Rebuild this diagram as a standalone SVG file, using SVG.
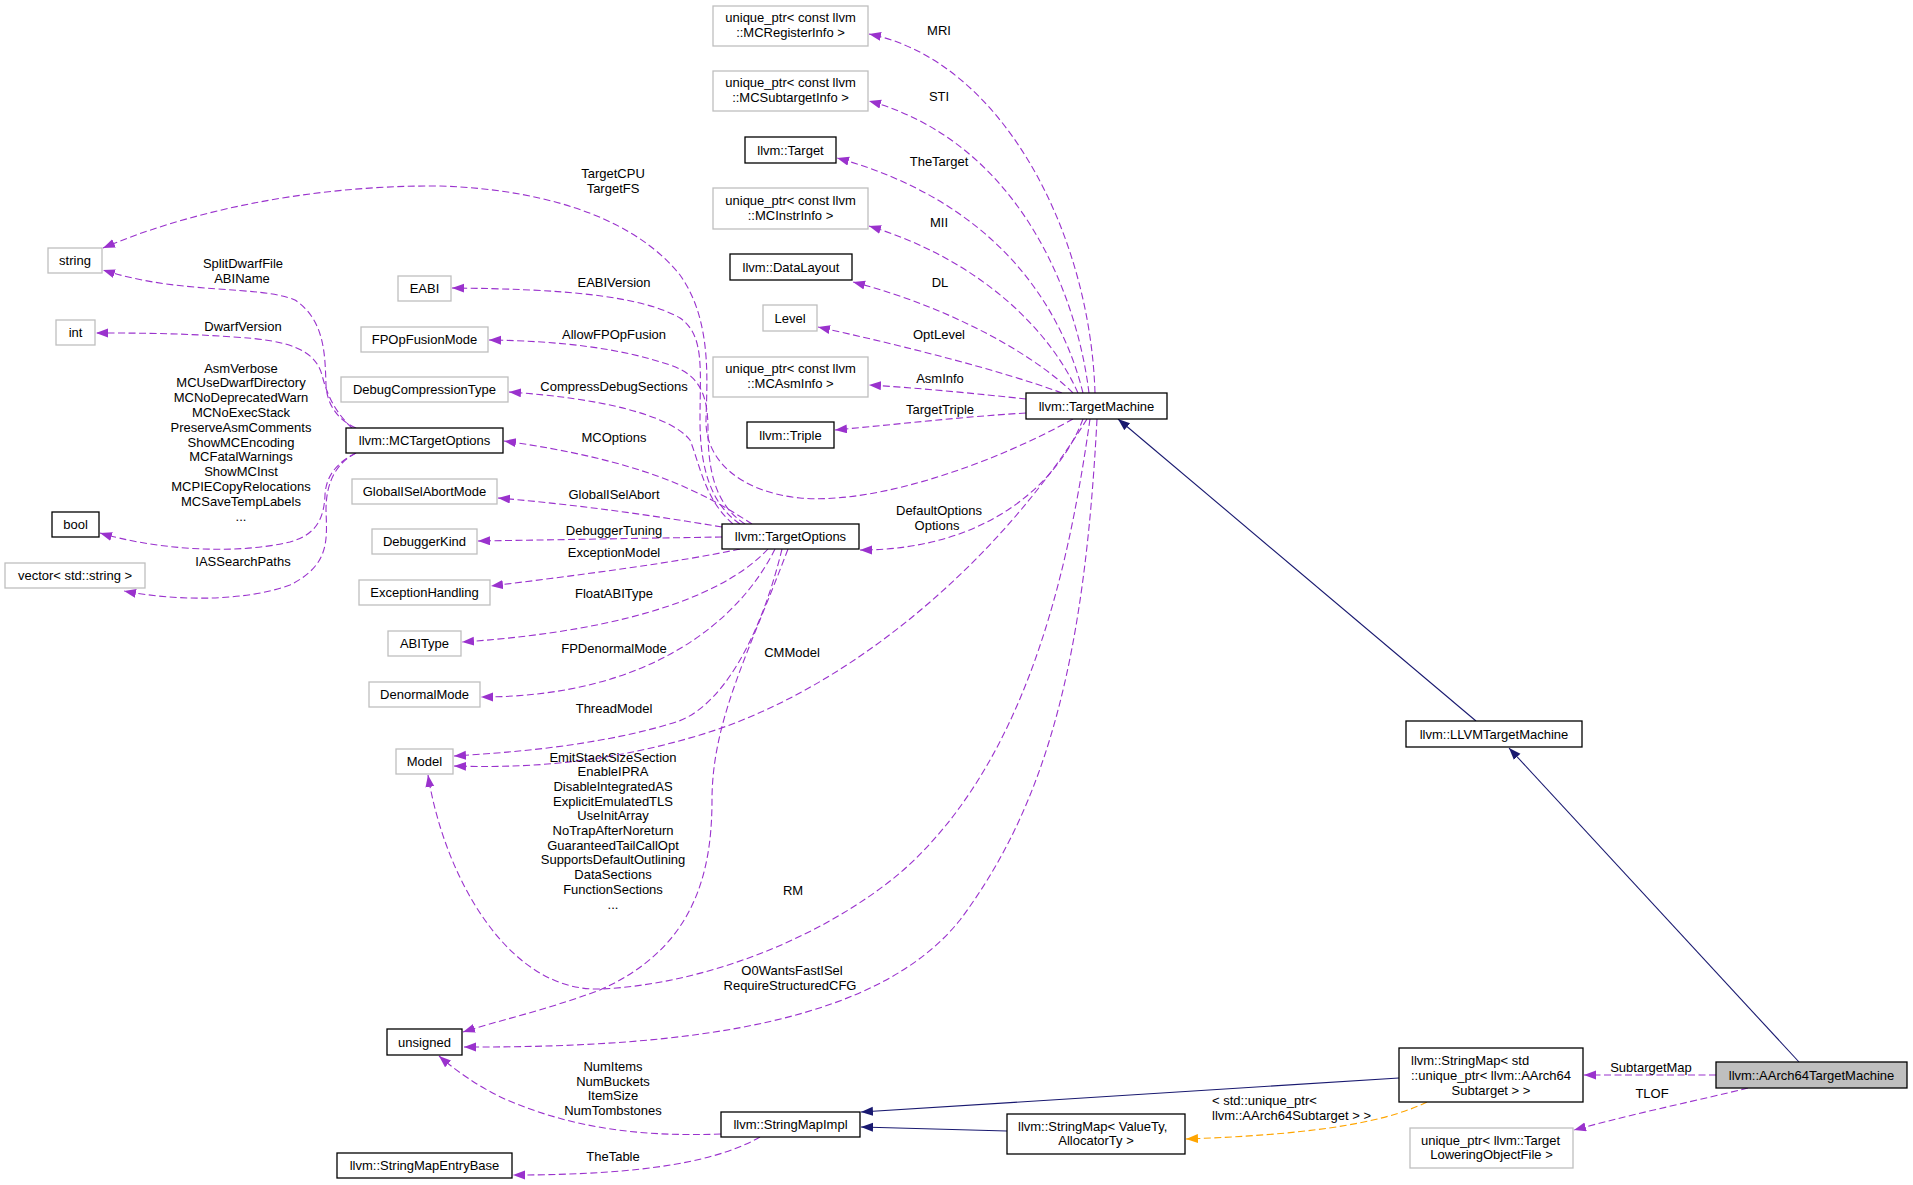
<svg xmlns="http://www.w3.org/2000/svg" width="1913" height="1185" viewBox="0 0 1913 1185">
<style>
text{font-family:"Liberation Sans",Arial,Helvetica,sans-serif;font-size:13px;fill:#000}
.c{text-anchor:middle}
.s{text-anchor:start}
.nb rect{fill:#fff;stroke:#000;stroke-width:1.3}
.ng rect{fill:#fff;stroke:#bfbfbf;stroke-width:1.3}
.nh rect{fill:#bfbfbf;stroke:#000;stroke-width:1.3}
.p{fill:none;stroke:#9a32cd;stroke-width:1.1;stroke-dasharray:7,3.5;marker-end:url(#ap)}
.b{fill:none;stroke:#191970;stroke-width:1.1;marker-end:url(#ab)}
.o{fill:none;stroke:#ffa500;stroke-width:1.1;stroke-dasharray:7,3.5;marker-end:url(#ao)}
</style>
<defs>
<marker id="ap" markerUnits="userSpaceOnUse" markerWidth="13" markerHeight="10" refX="12" refY="4.5" orient="auto"><path d="M0,0 L12,4.5 L0,9 z" fill="#9a32cd"/></marker>
<marker id="ab" markerUnits="userSpaceOnUse" markerWidth="13" markerHeight="10" refX="12" refY="4.5" orient="auto"><path d="M0,0 L12,4.5 L0,9 z" fill="#191970"/></marker>
<marker id="ao" markerUnits="userSpaceOnUse" markerWidth="13" markerHeight="10" refX="12" refY="4.5" orient="auto"><path d="M0,0 L12,4.5 L0,9 z" fill="#ffa500"/></marker>
</defs>
<rect width="1913" height="1185" fill="#fff"/>
<g id="connectors">
<path class="p" d="M1095,393 C1090,230 1000,60 869,34"/>
<path class="p" d="M1089,393 C1075,280 1010,140 869,101"/>
<path class="p" d="M1083,393 C1060,300 990,200 837,158"/>
<path class="p" d="M1078,393 C1050,330 980,260 869,226"/>
<path class="p" d="M1073,393 C1040,360 960,310 853,282"/>
<path class="p" d="M1062,393 C1000,370 900,345 818,327"/>
<path class="p" d="M1026,399 C980,394 920,388 869,385"/>
<path class="p" d="M1026,413 C960,417 900,424 835,430"/>
<path class="p" d="M1073,419 C1000,460 880,505 800,498 C740,492 705,460 706,420 C707,380 712,320 680,275 C640,225 560,190 440,186 C300,185 180,215 103,248"/>
<path class="p" d="M1083,419 C1060,480 990,550 860,550"/>
<path class="p" d="M1087,419 C1000,560 850,690 700,735 C600,765 520,768 454,766"/>
<path class="p" d="M1090,419 C1070,560 1030,760 900,873 C820,940 700,985 600,989 C510,992 445,880 428,775"/>
<path class="p" d="M1097,419 C1085,650 1050,800 960,920 C880,1020 700,1048 464,1047"/>
<path class="p" d="M752,524 C700,490 640,460 504,441"/>
<path class="p" d="M722,527 C650,515 580,505 498,498"/>
<path class="p" d="M722,537 L478,541"/>
<path class="p" d="M740,549 C680,562 580,575 491,586"/>
<path class="p" d="M768,549 C730,590 640,630 462,642"/>
<path class="p" d="M775,549 C740,620 650,697 481,697"/>
<path class="p" d="M782,549 C760,640 720,710 673,723 C600,745 520,752 454,756"/>
<path class="p" d="M788,549 C750,650 712,720 712,800 C712,880 690,950 600,990 C540,1012 500,1020 463,1032"/>
<path class="p" d="M740,524 C712,505 700,470 700,420 C700,370 705,335 680,318 C640,295 560,289 452,288"/>
<path class="p" d="M745,524 C715,505 708,470 708,430 C708,395 700,375 670,365 C620,348 560,341 489,340"/>
<path class="p" d="M733,524 C705,500 700,465 690,440 C670,415 600,398 509,392"/>
<path class="p" d="M356,428 C338,420 327,405 326,385 C325,355 325,320 295,300 C260,285 180,295 103,270"/>
<path class="p" d="M352,428 C335,412 327,395 322,375 C315,350 290,340 233,337 C180,333 130,333 96,333"/>
<path class="p" d="M356,453 C338,462 326,475 325,495 C324,520 315,535 290,542 C230,556 150,548 100,533"/>
<path class="p" d="M356,453 C338,462 326,480 326,510 C327,540 330,565 290,585 C240,603 170,600 124,591"/>
<path class="p" d="M721,1134 C640,1137 573,1128 507,1100 C480,1088 455,1070 439,1056"/>
<path class="p" d="M760,1137 C720,1160 650,1175 513,1175"/>
<path class="b" d="M1476,721 L1118,419"/>
<path class="b" d="M1799,1062 L1509,748"/>
<path class="b" d="M1399,1078 L861,1112"/>
<path class="b" d="M1007,1131 L861,1127"/>
<path class="o" d="M1427,1102 C1380,1125 1300,1135 1186,1139"/>
<path class="p" d="M1716,1075 L1584,1075"/>
<path class="p" d="M1748,1088 C1700,1100 1640,1112 1574,1130"/>
</g>
<g id="edge-labels">
<text class="c" x="939" y="35">MRI</text>
<text class="c" x="939" y="101">STI</text>
<text class="c" x="939" y="166">TheTarget</text>
<text class="c" x="939" y="227">MII</text>
<text class="c" x="940" y="287">DL</text>
<text class="c" x="939" y="339">OptLevel</text>
<text class="c" x="940" y="383">AsmInfo</text>
<text class="c" x="940" y="414">TargetTriple</text>
<text class="c" x="613" y="178">TargetCPU<tspan x="613" dy="15">TargetFS</tspan></text>
<text class="c" x="939" y="515">DefaultOptions<tspan x="937" dy="15">Options</tspan></text>
<text class="c" x="792" y="657">CMModel</text>
<text class="c" x="793" y="895">RM</text>
<text class="c" x="792" y="975">O0WantsFastISel<tspan x="790" dy="15">RequireStructuredCFG</tspan></text>
<text class="c" x="614" y="287">EABIVersion</text>
<text class="c" x="614" y="339">AllowFPOpFusion</text>
<text class="c" x="614" y="391">CompressDebugSections</text>
<text class="c" x="614" y="442">MCOptions</text>
<text class="c" x="614" y="499">GlobalISelAbort</text>
<text class="c" x="614" y="535">DebuggerTuning</text>
<text class="c" x="614" y="557">ExceptionModel</text>
<text class="c" x="614" y="598">FloatABIType</text>
<text class="c" x="614" y="653">FPDenormalMode</text>
<text class="c" x="614" y="713">ThreadModel</text>
<text class="c" x="613" y="761.5">EmitStackSizeSection<tspan x="613" dy="14.7">EnableIPRA</tspan><tspan x="613" dy="14.7">DisableIntegratedAS</tspan><tspan x="613" dy="14.7">ExplicitEmulatedTLS</tspan><tspan x="613" dy="14.7">UseInitArray</tspan><tspan x="613" dy="14.7">NoTrapAfterNoreturn</tspan><tspan x="613" dy="14.7">GuaranteedTailCallOpt</tspan><tspan x="613" dy="14.7">SupportsDefaultOutlining</tspan><tspan x="613" dy="14.7">DataSections</tspan><tspan x="613" dy="14.7">FunctionSections</tspan><tspan x="613" dy="14.7">...</tspan></text>
<text class="c" x="243" y="268">SplitDwarfFile<tspan x="242" dy="14.5">ABIName</tspan></text>
<text class="c" x="243" y="331">DwarfVersion</text>
<text class="c" x="241" y="372.5">AsmVerbose<tspan x="241" dy="14.8">MCUseDwarfDirectory</tspan><tspan x="241" dy="14.8">MCNoDeprecatedWarn</tspan><tspan x="241" dy="14.8">MCNoExecStack</tspan><tspan x="241" dy="14.8">PreserveAsmComments</tspan><tspan x="241" dy="14.8">ShowMCEncoding</tspan><tspan x="241" dy="14.8">MCFatalWarnings</tspan><tspan x="241" dy="14.8">ShowMCInst</tspan><tspan x="241" dy="14.8">MCPIECopyRelocations</tspan><tspan x="241" dy="14.8">MCSaveTempLabels</tspan><tspan x="241" dy="14.8">...</tspan></text>
<text class="c" x="243" y="566">IASSearchPaths</text>
<text class="c" x="613" y="1071">NumItems<tspan x="613" dy="14.7">NumBuckets</tspan><tspan x="613" dy="14.7">ItemSize</tspan><tspan x="613" dy="14.7">NumTombstones</tspan></text>
<text class="c" x="613" y="1161">TheTable</text>
<text class="s" x="1212" y="1105">&lt; std::unique_ptr&lt;<tspan x="1212" dy="15">llvm::AArch64Subtarget &gt; &gt;</tspan></text>
<text class="c" x="1651" y="1072">SubtargetMap</text>
<text class="c" x="1652" y="1098">TLOF</text>
</g>
<g id="n_string" class="ng"><rect x="48" y="248" width="54" height="25"/><text class="c" x="75" y="265">string</text></g>
<g id="n_int" class="ng"><rect x="56" y="320" width="39" height="25"/><text class="c" x="75.5" y="337">int</text></g>
<g id="n_bool" class="nb"><rect x="52" y="512" width="47" height="25"/><text class="c" x="75.5" y="529">bool</text></g>
<g id="n_vector" class="ng"><rect x="5" y="563" width="140" height="25"/><text class="c" x="75" y="580">vector&lt; std::string &gt;</text></g>
<g id="n_mctargetoptions" class="nb"><rect x="346" y="428" width="157" height="25"/><text class="c" x="424.5" y="445">llvm::MCTargetOptions</text></g>
<g id="n_eabi" class="ng"><rect x="398" y="276" width="53" height="25"/><text class="c" x="424.5" y="293">EABI</text></g>
<g id="n_fpopfusionmode" class="ng"><rect x="361" y="327" width="127" height="25"/><text class="c" x="424.5" y="344">FPOpFusionMode</text></g>
<g id="n_debugcompressiontype" class="ng"><rect x="341" y="377" width="167" height="25"/><text class="c" x="424.5" y="394">DebugCompressionType</text></g>
<g id="n_globalisel" class="ng"><rect x="352" y="479" width="145" height="25"/><text class="c" x="424.5" y="496">GlobalISelAbortMode</text></g>
<g id="n_debuggerkind" class="ng"><rect x="372" y="529" width="105" height="25"/><text class="c" x="424.5" y="546">DebuggerKind</text></g>
<g id="n_exceptionhandling" class="ng"><rect x="359" y="580" width="131" height="25"/><text class="c" x="424.5" y="597">ExceptionHandling</text></g>
<g id="n_abitype" class="ng"><rect x="388" y="631" width="73" height="25"/><text class="c" x="424.5" y="648">ABIType</text></g>
<g id="n_denormalmode" class="ng"><rect x="369" y="682" width="111" height="25"/><text class="c" x="424.5" y="699">DenormalMode</text></g>
<g id="n_model" class="ng"><rect x="396" y="749" width="57" height="25"/><text class="c" x="424.5" y="766">Model</text></g>
<g id="n_unsigned" class="nb"><rect x="387" y="1029" width="75" height="26"/><text class="c" x="424.5" y="1046.5">unsigned</text></g>
<g id="n_stringmapentrybase" class="nb"><rect x="337" y="1153" width="175" height="25"/><text class="c" x="424.5" y="1170">llvm::StringMapEntryBase</text></g>
<g id="n_mcregisterinfo" class="ng"><rect x="713" y="6" width="155" height="40"/><text class="c" x="790.5" y="22">unique_ptr&lt; const llvm<tspan x="790.5" dy="15">::MCRegisterInfo &gt;</tspan></text></g>
<g id="n_mcsubtargetinfo" class="ng"><rect x="713" y="71" width="155" height="40"/><text class="c" x="790.5" y="87">unique_ptr&lt; const llvm<tspan x="790.5" dy="15">::MCSubtargetInfo &gt;</tspan></text></g>
<g id="n_target" class="nb"><rect x="745" y="137" width="91" height="26"/><text class="c" x="790.5" y="154.5">llvm::Target</text></g>
<g id="n_mcinstrinfo" class="ng"><rect x="713" y="188" width="155" height="41"/><text class="c" x="790.5" y="205">unique_ptr&lt; const llvm<tspan x="790.5" dy="14.5">::MCInstrInfo &gt;</tspan></text></g>
<g id="n_datalayout" class="nb"><rect x="730" y="254" width="122" height="26"/><text class="c" x="791" y="271.5">llvm::DataLayout</text></g>
<g id="n_level" class="ng"><rect x="763" y="305" width="54" height="26"/><text class="c" x="790" y="322.5">Level</text></g>
<g id="n_mcasminfo" class="ng"><rect x="713" y="357" width="155" height="40"/><text class="c" x="790.5" y="373">unique_ptr&lt; const llvm<tspan x="790.5" dy="14.5">::MCAsmInfo &gt;</tspan></text></g>
<g id="n_triple" class="nb"><rect x="747" y="422" width="87" height="26"/><text class="c" x="790.5" y="439.5">llvm::Triple</text></g>
<g id="n_targetoptions" class="nb"><rect x="722" y="524" width="137" height="25"/><text class="c" x="790.5" y="541">llvm::TargetOptions</text></g>
<g id="n_stringmapimpl" class="nb"><rect x="721" y="1112" width="139" height="25"/><text class="c" x="790.5" y="1129">llvm::StringMapImpl</text></g>
<g id="n_targetmachine" class="nb"><rect x="1026" y="393" width="141" height="26"/><text class="c" x="1096.5" y="410.5">llvm::TargetMachine</text></g>
<g id="n_stringmap_valuety" class="nb"><rect x="1007" y="1114" width="178" height="40"/><text class="s" x="1018" y="1130.5">llvm::StringMap&lt; ValueTy,</text><text class="c" x="1096" y="1145">AllocatorTy &gt;</text></g>
<g id="n_llvmtargetmachine" class="nb"><rect x="1406" y="721" width="176" height="26"/><text class="c" x="1494" y="738.5">llvm::LLVMTargetMachine</text></g>
<g id="n_stringmap_subtarget" class="nb"><rect x="1399" y="1048" width="184" height="54"/><text class="s" x="1411" y="1064.5">llvm::StringMap&lt; std</text><text class="s" x="1411" y="1079.5">::unique_ptr&lt; llvm::AArch64</text><text class="c" x="1491" y="1094.5">Subtarget &gt; &gt;</text></g>
<g id="n_tlof" class="ng"><rect x="1410" y="1128" width="163" height="40"/><text class="s" x="1421" y="1145">unique_ptr&lt; llvm::Target</text><text class="c" x="1491.5" y="1159">LoweringObjectFile &gt;</text></g>
<g id="n_aarch64targetmachine" class="nh"><rect x="1716" y="1062" width="191" height="26"/><text class="c" x="1811.5" y="1079.5">llvm::AArch64TargetMachine</text></g>
</svg>
